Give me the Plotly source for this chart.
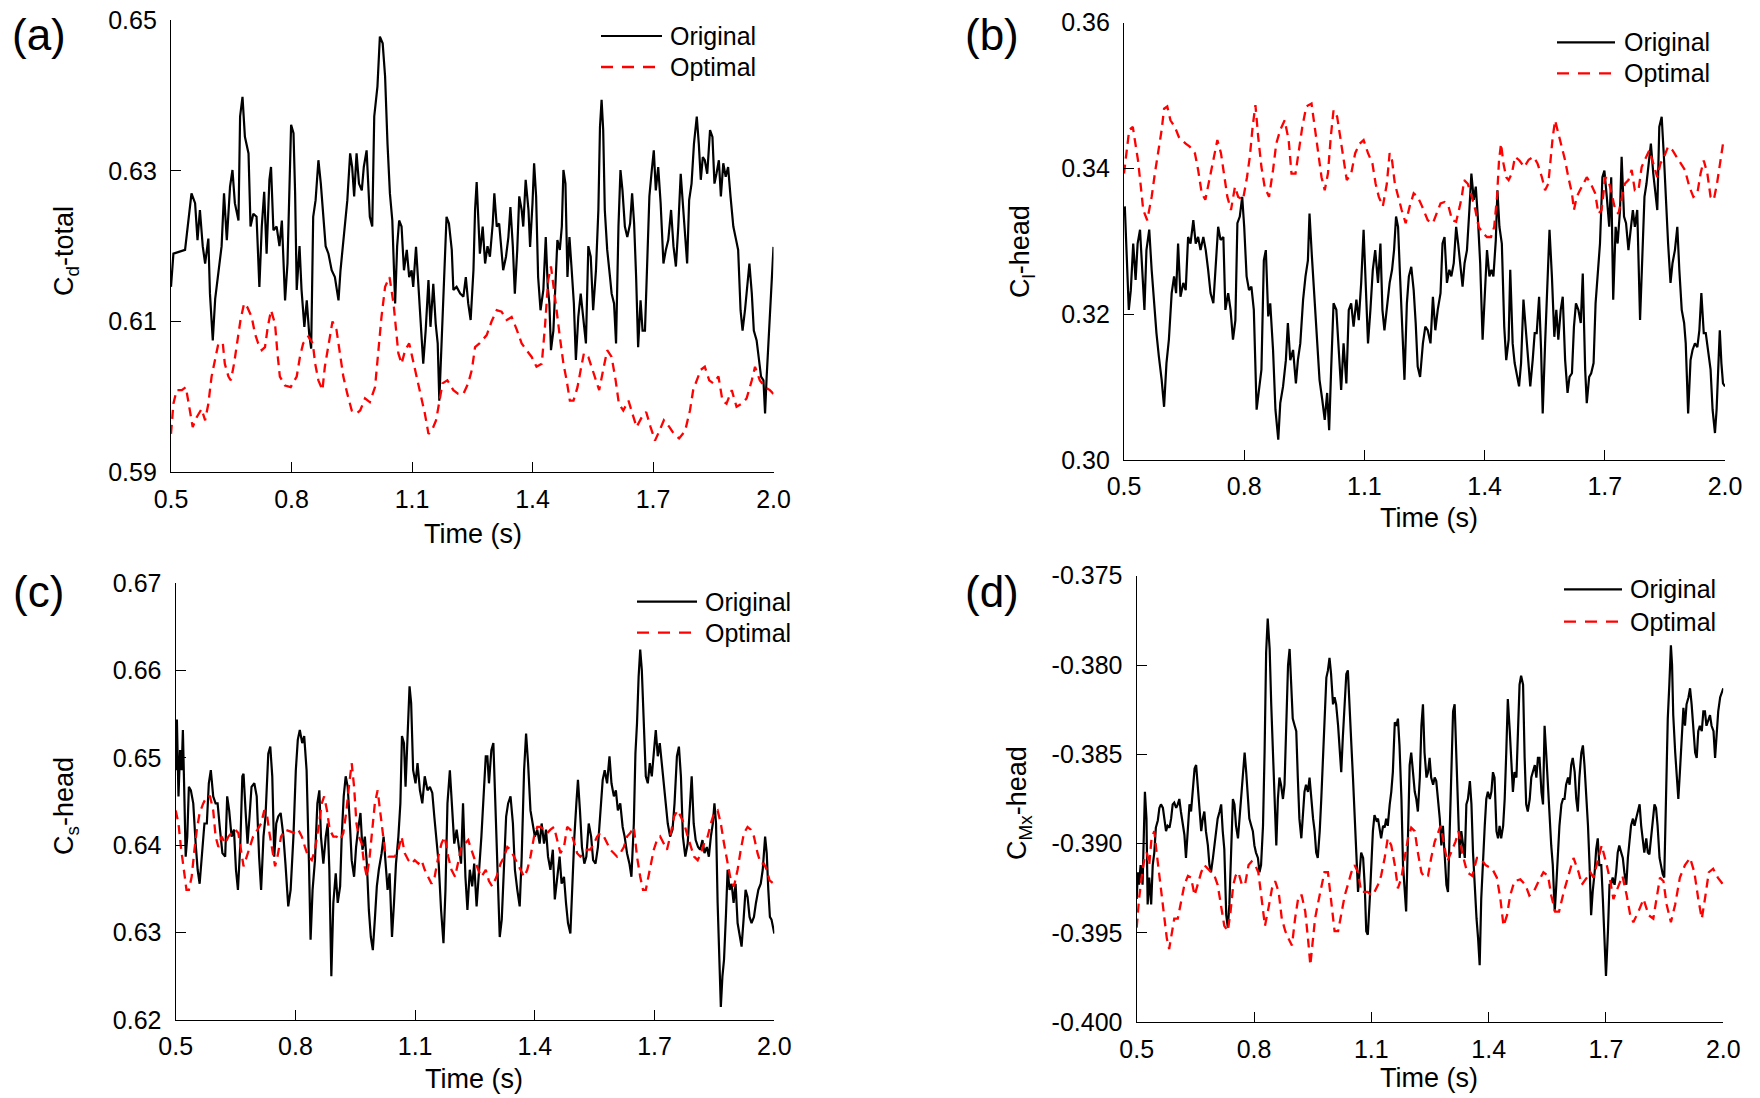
import plotly.graph_objects as go

# ---------------- data (time [s], coefficient) ----------------
time_ticks = [0.5, 0.8, 1.1, 1.4, 1.7, 2.0]
time_tick_labels = ["0.5", "0.8", "1.1", "1.4", "1.7", "2.0"]

a_ticks = [0.59, 0.61, 0.63, 0.65]
a_tick_labels = ["0.59", "0.61", "0.63", "0.65"]
b_ticks = [0.30, 0.32, 0.34, 0.36]
b_tick_labels = ["0.30", "0.32", "0.34", "0.36"]
c_ticks = [0.62, 0.63, 0.64, 0.65, 0.66, 0.67]
c_tick_labels = ["0.62", "0.63", "0.64", "0.65", "0.66", "0.67"]
d_ticks = [-0.400, -0.395, -0.390, -0.385, -0.380, -0.375]
d_tick_labels = ["-0.400", "-0.395", "-0.390", "-0.385", "-0.380", "-0.375"]

# (a) Cd-total
a_original = [
(0.500,0.6146),(0.506,0.6190),(0.535,0.6195),(0.551,0.6270),(0.560,0.6257),(0.566,0.6208),(0.572,0.6248),(0.579,0.6200),(0.585,0.6177),(0.593,0.6210),
(0.597,0.6137),(0.604,0.6075),(0.610,0.6130),(0.618,0.6164),(0.626,0.6200),(0.632,0.6270),(0.639,0.6208),(0.647,0.6279),(0.653,0.6301),(0.659,0.6257),
(0.668,0.6234),(0.672,0.6372),(0.678,0.6398),(0.684,0.6345),(0.693,0.6323),(0.698,0.6226),(0.705,0.6243),(0.713,0.6239),(0.720,0.6146),(0.726,0.6226),
(0.732,0.6272),(0.738,0.6190),(0.745,0.6288),(0.749,0.6305),(0.755,0.6221),(0.763,0.6226),(0.770,0.6200),(0.776,0.6234),(0.784,0.6128),(0.790,0.6177),
(0.796,0.6283),(0.799,0.6361),(0.805,0.6350),(0.809,0.6270),(0.813,0.6142),(0.820,0.6200),(0.825,0.6142),(0.832,0.6093),(0.838,0.6128),(0.844,0.6084),
(0.849,0.6064),(0.854,0.6239),(0.860,0.6261),(0.867,0.6314),(0.873,0.6283),(0.879,0.6239),(0.885,0.6200),(0.892,0.6190),(0.900,0.6168),(0.908,0.6159),
(0.917,0.6128),(0.922,0.6168),(0.927,0.6195),(0.933,0.6230),(0.939,0.6261),(0.946,0.6323),(0.951,0.6305),(0.956,0.6266),(0.962,0.6323),(0.968,0.6283),
(0.975,0.6274),(0.980,0.6305),(0.987,0.6327),(0.991,0.6283),(0.995,0.6239),(1.001,0.6226),(1.006,0.6372),(1.014,0.6412),(1.020,0.6478),(1.027,0.6469),
(1.033,0.6425),(1.039,0.6336),(1.045,0.6270),(1.051,0.6234),(1.058,0.6124),(1.063,0.6200),(1.068,0.6234),(1.074,0.6226),(1.080,0.6168),(1.087,0.6195),
(1.093,0.6159),(1.099,0.6168),(1.103,0.6146),(1.110,0.6199),(1.116,0.6146),(1.122,0.6088),(1.128,0.6044),(1.134,0.6088),(1.141,0.6155),(1.146,0.6093),
(1.153,0.6150),(1.159,0.6097),(1.164,0.6071),(1.168,0.5995),(1.174,0.6071),(1.178,0.6137),(1.182,0.6195),(1.186,0.6239),(1.192,0.6230),(1.199,0.6195),
(1.203,0.6142),(1.211,0.6146),(1.220,0.6137),(1.228,0.6133),(1.234,0.6159),(1.240,0.6124),(1.246,0.6102),(1.253,0.6168),(1.257,0.6248),(1.261,0.6285),
(1.269,0.6190),(1.276,0.6226),(1.282,0.6177),(1.288,0.6200),(1.294,0.6186),(1.301,0.6230),(1.305,0.6270),(1.311,0.6226),(1.317,0.6230),(1.323,0.6195),
(1.327,0.6168),(1.334,0.6186),(1.340,0.6212),(1.345,0.6252),(1.351,0.6200),(1.356,0.6137),(1.362,0.6195),(1.367,0.6266),(1.373,0.6248),(1.377,0.6226),
(1.383,0.6288),(1.390,0.6248),(1.394,0.6199),(1.400,0.6257),(1.404,0.6310),(1.409,0.6266),(1.414,0.6159),(1.420,0.6115),(1.427,0.6142),(1.433,0.6212),
(1.438,0.6146),(1.442,0.6124),(1.446,0.6062),(1.452,0.6088),(1.458,0.6159),(1.462,0.6208),(1.468,0.6195),(1.473,0.6226),(1.477,0.6301),(1.482,0.6283),
(1.487,0.6159),(1.492,0.6212),(1.497,0.6173),(1.503,0.6124),(1.508,0.6049),(1.514,0.6106),(1.520,0.6137),(1.526,0.6106),(1.533,0.6071),(1.539,0.6200),
(1.545,0.6186),(1.551,0.6115),(1.558,0.6168),(1.564,0.6248),(1.568,0.6358),(1.572,0.6394),(1.576,0.6354),(1.580,0.6248),(1.586,0.6195),(1.593,0.6159),
(1.597,0.6137),(1.603,0.6124),(1.608,0.6071),(1.614,0.6226),(1.619,0.6301),(1.624,0.6274),(1.630,0.6226),(1.636,0.6212),(1.643,0.6230),(1.648,0.6270),
(1.653,0.6230),(1.658,0.6159),(1.663,0.6066),(1.669,0.6128),(1.674,0.6088),(1.680,0.6088),(1.686,0.6177),(1.691,0.6266),(1.697,0.6301),(1.702,0.6327),
(1.707,0.6274),(1.713,0.6305),(1.719,0.6257),(1.726,0.6177),(1.732,0.6195),(1.738,0.6208),(1.745,0.6248),(1.751,0.6200),(1.757,0.6173),(1.763,0.6226),
(1.769,0.6296),(1.774,0.6261),(1.780,0.6208),(1.785,0.6177),(1.790,0.6261),(1.796,0.6283),(1.802,0.6336),(1.809,0.6372),(1.814,0.6336),(1.819,0.6288),
(1.824,0.6318),(1.829,0.6314),(1.835,0.6296),(1.842,0.6354),(1.848,0.6345),(1.853,0.6283),(1.858,0.6296),(1.864,0.6314),(1.869,0.6266),(1.875,0.6310),
(1.881,0.6292),(1.887,0.6305),(1.893,0.6266),(1.900,0.6226),(1.907,0.6208),(1.912,0.6195),(1.918,0.6115),(1.923,0.6088),(1.929,0.6115),(1.935,0.6150),
(1.940,0.6177),(1.946,0.6137),(1.951,0.6088),(1.958,0.6075),(1.964,0.6049),(1.969,0.6027),(1.975,0.6022),(1.979,0.5978),(1.983,0.6027),(1.989,0.6093),
(1.994,0.6137),(2.000,0.6199)]

a_optimal = [
(0.500,0.5951),(0.506,0.5991),(0.514,0.6009),(0.527,0.6009),(0.537,0.6013),(0.546,0.5987),(0.554,0.5960),(0.564,0.5973),(0.576,0.5984),(0.585,0.5969),
(0.593,0.5991),(0.601,0.6027),(0.610,0.6053),(0.618,0.6071),(0.629,0.6071),(0.634,0.6044),(0.643,0.6027),(0.649,0.6022),(0.657,0.6044),(0.665,0.6075),
(0.673,0.6102),(0.682,0.6124),(0.690,0.6119),(0.701,0.6106),(0.709,0.6084),(0.717,0.6071),(0.726,0.6062),(0.734,0.6066),(0.741,0.6093),(0.749,0.6115),
(0.759,0.6097),(0.765,0.6058),(0.771,0.6027),(0.784,0.6015),(0.798,0.6013),(0.813,0.6027),(0.821,0.6053),(0.829,0.6071),(0.842,0.6080),(0.853,0.6071),
(0.859,0.6044),(0.867,0.6022),(0.877,0.6009),(0.883,0.6040),(0.892,0.6071),(0.902,0.6100),(0.912,0.6089),(0.921,0.6058),(0.929,0.6027),(0.939,0.6004),
(0.950,0.5982),(0.962,0.5978),(0.971,0.5982),(0.983,0.5998),(0.995,0.5993),(1.008,0.6013),(1.016,0.6058),(1.024,0.6106),(1.033,0.6146),(1.044,0.6159),
(1.054,0.6124),(1.060,0.6088),(1.066,0.6058),(1.074,0.6044),(1.083,0.6062),(1.093,0.6071),(1.102,0.6049),(1.112,0.6027),(1.120,0.6009),(1.132,0.5978),
(1.141,0.5951),(1.149,0.5955),(1.160,0.5969),(1.168,0.5995),(1.176,0.6018),(1.188,0.6022),(1.203,0.6009),(1.215,0.6004),(1.228,0.6004),(1.240,0.6018),
(1.249,0.6036),(1.257,0.6066),(1.268,0.6071),(1.286,0.6082),(1.298,0.6100),(1.311,0.6115),(1.323,0.6113),(1.336,0.6102),(1.348,0.6106),(1.361,0.6089),
(1.373,0.6071),(1.385,0.6062),(1.398,0.6053),(1.410,0.6040),(1.423,0.6044),(1.431,0.6093),(1.439,0.6155),(1.446,0.6173),(1.453,0.6146),(1.460,0.6115),
(1.468,0.6080),(1.477,0.6044),(1.485,0.6022),(1.493,0.5995),(1.502,0.5995),(1.512,0.6013),(1.520,0.6036),(1.528,0.6058),(1.539,0.6053),(1.550,0.6036),
(1.558,0.6022),(1.566,0.6009),(1.576,0.6036),(1.586,0.6062),(1.597,0.6053),(1.607,0.6022),(1.615,0.5991),(1.626,0.5982),(1.639,0.5995),(1.649,0.5978),
(1.659,0.5960),(1.672,0.5973),(1.683,0.5980),(1.694,0.5960),(1.705,0.5942),(1.716,0.5955),(1.727,0.5969),(1.741,0.5960),(1.752,0.5951),(1.765,0.5945),
(1.780,0.5955),(1.792,0.5982),(1.800,0.6009),(1.809,0.6022),(1.819,0.6036),(1.829,0.6040),(1.840,0.6022),(1.850,0.6018),(1.863,0.6027),(1.873,0.5995),
(1.883,0.5991),(1.896,0.6009),(1.908,0.5987),(1.921,0.5991),(1.933,0.5998),(1.946,0.6022),(1.954,0.6040),(1.966,0.6022),(1.979,0.6013),(1.991,0.6009),
(2.000,0.6004)]

# (b) Cl-head
b_original = [
(0.502,0.3348),(0.507,0.3279),(0.512,0.3206),(0.517,0.3233),(0.523,0.3297),(0.529,0.3247),(0.534,0.3297),(0.540,0.3316),(0.546,0.3261),(0.551,0.3206),
(0.556,0.3288),(0.563,0.3316),(0.569,0.3261),(0.575,0.3215),(0.581,0.3174),(0.587,0.3142),(0.594,0.3110),(0.600,0.3073),(0.606,0.3133),(0.612,0.3165),
(0.619,0.3229),(0.625,0.3252),(0.630,0.3229),(0.635,0.3297),(0.641,0.3224),(0.648,0.3243),(0.654,0.3233),(0.660,0.3306),(0.666,0.3297),(0.673,0.3329),
(0.679,0.3297),(0.685,0.3306),(0.691,0.3288),(0.698,0.3306),(0.704,0.3288),(0.710,0.3261),(0.716,0.3229),(0.723,0.3215),(0.729,0.3270),(0.735,0.3320),
(0.741,0.3302),(0.748,0.3306),(0.753,0.3206),(0.760,0.3229),(0.766,0.3206),(0.772,0.3165),(0.778,0.3192),(0.783,0.3325),(0.789,0.3334),(0.795,0.3361),
(0.800,0.3320),(0.806,0.3252),(0.812,0.3233),(0.818,0.3238),(0.824,0.3206),(0.831,0.3069),(0.836,0.3092),(0.843,0.3124),(0.849,0.3274),(0.854,0.3288),
(0.860,0.3197),(0.865,0.3215),(0.872,0.3151),(0.878,0.3069),(0.885,0.3028),(0.890,0.3078),(0.897,0.3101),(0.904,0.3137),(0.909,0.3188),(0.915,0.3137),
(0.922,0.3151),(0.929,0.3105),(0.934,0.3137),(0.940,0.3160),(0.947,0.3220),(0.953,0.3252),(0.959,0.3274),(0.963,0.3338),(0.969,0.3279),(0.976,0.3215),
(0.982,0.3160),(0.988,0.3110),(0.995,0.3082),(1.001,0.3055),(1.007,0.3092),(1.012,0.3041),(1.017,0.3124),(1.023,0.3215),(1.030,0.3206),(1.037,0.3133),
(1.042,0.3096),(1.048,0.3160),(1.055,0.3105),(1.061,0.3206),(1.067,0.3215),(1.073,0.3183),(1.080,0.3220),(1.086,0.3192),(1.092,0.3243),(1.098,0.3316),
(1.103,0.3252),(1.109,0.3160),(1.115,0.3206),(1.121,0.3261),(1.127,0.3288),(1.134,0.3243),(1.140,0.3297),(1.145,0.3206),(1.150,0.3178),(1.156,0.3211),
(1.163,0.3243),(1.169,0.3261),(1.174,0.3288),(1.179,0.3334),(1.184,0.3320),(1.189,0.3252),(1.194,0.3183),(1.200,0.3110),(1.206,0.3215),(1.211,0.3252),
(1.217,0.3265),(1.223,0.3233),(1.228,0.3188),(1.233,0.3128),(1.239,0.3114),(1.246,0.3160),(1.252,0.3183),(1.258,0.3178),
(1.265,0.3160),(1.271,0.3224),(1.277,0.3178),(1.283,0.3206),(1.290,0.3229),(1.295,0.3297),(1.300,0.3306),(1.306,0.3243),(1.312,0.3261),(1.317,0.3252),
(1.323,0.3270),(1.329,0.3320),(1.334,0.3297),(1.339,0.3270),(1.345,0.3238),(1.350,0.3270),(1.356,0.3288),(1.362,0.3343),(1.367,0.3393),(1.373,0.3357),
(1.378,0.3375),(1.383,0.3334),(1.389,0.3270),(1.395,0.3165),(1.400,0.3229),(1.406,0.3288),(1.412,0.3252),(1.417,0.3261),(1.422,0.3252),(1.428,0.3302),
(1.432,0.3370),(1.437,0.3320),(1.443,0.3297),(1.449,0.3183),(1.454,0.3137),(1.460,0.3165),(1.464,0.3261),(1.470,0.3160),(1.475,0.3133),(1.481,0.3114),
(1.486,0.3101),(1.491,0.3133),(1.497,0.3220),(1.503,0.3178),(1.508,0.3146),(1.514,0.3101),(1.520,0.3137),(1.525,0.3174),(1.530,0.3174),(1.536,0.3224),
(1.541,0.3151),(1.545,0.3064),(1.551,0.3160),(1.557,0.3252),(1.562,0.3316),(1.568,0.3252),(1.574,0.3169),(1.579,0.3206),(1.584,0.3165),(1.590,0.3206),
(1.595,0.3224),(1.601,0.3137),(1.607,0.3092),(1.612,0.3114),(1.618,0.3119),(1.623,0.3183),(1.628,0.3215),(1.634,0.3206),(1.640,0.3188),(1.645,0.3256),
(1.651,0.3124),(1.655,0.3078),(1.661,0.3114),(1.666,0.3119),(1.672,0.3133),(1.677,0.3215),(1.682,0.3252),(1.688,0.3297),(1.694,0.3388),(1.699,0.3397),
(1.705,0.3361),(1.711,0.3320),(1.716,0.3388),(1.721,0.3220),(1.727,0.3320),(1.732,0.3297),(1.738,0.3343),(1.742,0.3416),(1.748,0.3334),(1.753,0.3325),
(1.759,0.3288),(1.765,0.3320),(1.770,0.3343),(1.775,0.3320),(1.781,0.3343),(1.788,0.3192),(1.794,0.3274),(1.799,0.3361),(1.804,0.3379),(1.810,0.3411),
(1.815,0.3434),(1.821,0.3393),(1.827,0.3361),(1.831,0.3343),(1.836,0.3457),(1.842,0.3471),(1.848,0.3411),(1.853,0.3343),(1.858,0.3297),(1.864,0.3243),
(1.869,0.3270),(1.875,0.3288),(1.881,0.3320),(1.886,0.3261),(1.892,0.3206),(1.898,0.3188),(1.902,0.3160),(1.908,0.3064),(1.914,0.3137),(1.919,0.3151),
(1.925,0.3160),(1.931,0.3155),(1.936,0.3178),(1.941,0.3229),(1.947,0.3174),(1.952,0.3174),(1.958,0.3151),(1.964,0.3124),(1.969,0.3069),(1.975,0.3037),
(1.979,0.3069),(1.983,0.3133),(1.987,0.3178),(1.991,0.3133),(1.995,0.3105),(2.000,0.3101)]

b_optimal = [
(0.500,0.3393),(0.507,0.3425),(0.513,0.3453),(0.522,0.3457),(0.528,0.3434),(0.535,0.3411),(0.542,0.3375),(0.548,0.3343),(0.558,0.3329),(0.569,0.3361),
(0.577,0.3393),(0.586,0.3425),(0.594,0.3453),(0.600,0.3482),(0.608,0.3485),(0.616,0.3466),(0.627,0.3457),(0.637,0.3443),(0.644,0.3439),(0.654,0.3434),
(0.664,0.3430),(0.677,0.3421),(0.685,0.3398),(0.694,0.3366),(0.703,0.3357),(0.713,0.3384),(0.723,0.3411),(0.733,0.3439),(0.742,0.3421),(0.750,0.3388),
(0.758,0.3361),(0.767,0.3343),(0.777,0.3375),(0.785,0.3361),(0.797,0.3357),(0.807,0.3388),(0.814,0.3416),(0.821,0.3457),(0.828,0.3487),(0.835,0.3443),
(0.843,0.3402),(0.851,0.3375),(0.862,0.3361),(0.872,0.3398),(0.880,0.3434),(0.890,0.3453),(0.901,0.3466),(0.911,0.3439),(0.918,0.3393),(0.928,0.3393),
(0.936,0.3421),(0.945,0.3457),(0.955,0.3485),(0.968,0.3489),(0.976,0.3457),(0.984,0.3421),(0.993,0.3388),(1.001,0.3370),(1.009,0.3393),(1.016,0.3443),
(1.023,0.3480),(1.032,0.3471),(1.040,0.3443),(1.048,0.3411),(1.056,0.3384),(1.067,0.3393),(1.077,0.3421),(1.088,0.3434),(1.098,0.3439),(1.109,0.3421),
(1.120,0.3407),(1.128,0.3379),(1.136,0.3361),(1.146,0.3348),(1.156,0.3379),(1.163,0.3421),(1.169,0.3411),(1.176,0.3379),(1.184,0.3361),(1.193,0.3343),
(1.203,0.3325),(1.213,0.3348),(1.223,0.3366),(1.233,0.3361),(1.244,0.3348),(1.258,0.3329),
(1.271,0.3325),(1.280,0.3338),(1.290,0.3352),(1.300,0.3354),(1.310,0.3348),(1.319,0.3329),(1.329,0.3327),(1.338,0.3348),(1.343,0.3361),(1.349,0.3384),
(1.358,0.3379),(1.368,0.3361),(1.377,0.3343),(1.385,0.3320),(1.396,0.3311),(1.406,0.3306),(1.416,0.3306),(1.424,0.3320),(1.431,0.3361),(1.436,0.3411),
(1.441,0.3434),(1.447,0.3407),(1.454,0.3388),(1.460,0.3384),(1.468,0.3393),(1.476,0.3416),(1.487,0.3411),(1.499,0.3402),(1.510,0.3412),(1.522,0.3416),
(1.532,0.3407),(1.543,0.3388),(1.551,0.3370),(1.559,0.3379),(1.565,0.3416),(1.570,0.3443),(1.576,0.3466),(1.584,0.3448),(1.593,0.3425),(1.601,0.3411),
(1.609,0.3388),(1.618,0.3366),(1.623,0.3343),(1.630,0.3361),(1.638,0.3370),(1.647,0.3379),(1.655,0.3388),(1.665,0.3379),(1.676,0.3366),(1.684,0.3338),
(1.692,0.3343),(1.701,0.3388),(1.709,0.3384),(1.717,0.3366),(1.726,0.3343),(1.734,0.3338),(1.742,0.3361),(1.750,0.3379),(1.759,0.3384),(1.767,0.3398),
(1.775,0.3370),(1.784,0.3370),(1.792,0.3402),(1.800,0.3411),(1.811,0.3425),(1.821,0.3407),(1.831,0.3388),(1.839,0.3407),(1.848,0.3416),(1.858,0.3430),
(1.869,0.3425),(1.879,0.3416),(1.889,0.3407),(1.900,0.3398),(1.911,0.3375),(1.921,0.3361),(1.931,0.3366),(1.939,0.3393),(1.947,0.3411),(1.956,0.3393),
(1.964,0.3361),(1.972,0.3357),(1.980,0.3379),(1.987,0.3407),(1.995,0.3434),(2.000,0.3440)]

# (c) Cs-head
c_original = [
(0.500,0.6486),(0.503,0.6544),(0.507,0.6456),(0.511,0.6509),(0.515,0.6486),(0.518,0.6532),(0.521,0.6471),(0.525,0.6387),(0.529,0.6410),(0.533,0.6467),
(0.538,0.6463),(0.544,0.6448),(0.550,0.6402),(0.555,0.6372),(0.560,0.6356),(0.565,0.6387),(0.572,0.6425),(0.578,0.6425),(0.583,0.6471),(0.588,0.6486),
(0.594,0.6456),(0.600,0.6448),(0.605,0.6448),(0.611,0.6418),(0.617,0.6391),(0.624,0.6387),(0.629,0.6456),(0.634,0.6440),(0.640,0.6410),(0.646,0.6418),
(0.651,0.6372),(0.656,0.6349),(0.662,0.6402),(0.667,0.6479),(0.670,0.6482),(0.675,0.6440),(0.680,0.6402),(0.685,0.6433),(0.690,0.6467),(0.697,0.6471),
(0.703,0.6456),(0.709,0.6387),(0.714,0.6349),(0.720,0.6410),(0.725,0.6433),(0.732,0.6505),(0.737,0.6513),(0.742,0.6479),(0.747,0.6387),(0.752,0.6425),
(0.757,0.6433),(0.763,0.6437),(0.770,0.6410),(0.775,0.6379),(0.782,0.6330),(0.788,0.6349),(0.795,0.6410),(0.801,0.6486),(0.806,0.6521),(0.811,0.6532),
(0.817,0.6517),(0.822,0.6525),(0.828,0.6486),(0.834,0.6379),(0.838,0.6292),(0.843,0.6349),(0.849,0.6383),(0.855,0.6448),(0.860,0.6463),(0.864,0.6410),
(0.870,0.6379),(0.876,0.6410),(0.881,0.6425),(0.885,0.6372),(0.890,0.6250),(0.895,0.6334),(0.901,0.6368),(0.906,0.6334),(0.912,0.6353),(0.916,0.6410),
(0.921,0.6456),(0.926,0.6479),(0.931,0.6467),(0.936,0.6429),(0.941,0.6383),(0.947,0.6364),(0.952,0.6398),(0.957,0.6418),(0.963,0.6437),(0.968,0.6395),
(0.974,0.6410),(0.979,0.6379),(0.984,0.6326),(0.989,0.6295),(0.994,0.6280),(0.999,0.6315),(1.004,0.6353),(1.009,0.6372),(1.016,0.6391),(1.021,0.6410),
(1.026,0.6379),(1.031,0.6349),(1.036,0.6368),(1.042,0.6295),(1.047,0.6334),(1.052,0.6379),(1.058,0.6410),(1.063,0.6448),(1.067,0.6525),(1.072,0.6517),
(1.076,0.6467),(1.081,0.6532),(1.086,0.6582),(1.090,0.6563),(1.095,0.6486),(1.101,0.6471),(1.106,0.6494),(1.112,0.6463),(1.118,0.6448),(1.124,0.6479),
(1.131,0.6463),(1.137,0.6467),(1.143,0.6460),(1.148,0.6433),(1.154,0.6402),(1.159,0.6379),(1.165,0.6326),(1.171,0.6288),(1.176,0.6349),(1.181,0.6448),
(1.187,0.6486),(1.193,0.6440),(1.198,0.6402),(1.204,0.6418),(1.210,0.6395),(1.215,0.6379),(1.220,0.6448),(1.226,0.6364),(1.231,0.6326),(1.237,0.6372),
(1.243,0.6353),(1.248,0.6379),(1.254,0.6330),(1.260,0.6372),(1.266,0.6410),
(1.277,0.6502),(1.281,0.6502),(1.285,0.6471),(1.291,0.6509),(1.296,0.6517),(1.300,0.6467),(1.306,0.6379),(1.312,0.6295),(1.317,0.6315),(1.323,0.6387),
(1.328,0.6433),(1.333,0.6448),(1.339,0.6456),(1.345,0.6425),(1.350,0.6372),(1.356,0.6349),(1.362,0.6330),(1.367,0.6387),(1.373,0.6486),(1.378,0.6528),
(1.383,0.6494),(1.389,0.6440),(1.395,0.6425),(1.400,0.6410),(1.406,0.6418),(1.412,0.6402),(1.417,0.6425),(1.423,0.6402),(1.428,0.6418),(1.433,0.6387),
(1.439,0.6372),(1.445,0.6395),(1.450,0.6338),(1.456,0.6364),(1.462,0.6387),(1.467,0.6356),(1.473,0.6364),(1.478,0.6334),(1.483,0.6311),(1.489,0.6299),
(1.494,0.6356),(1.499,0.6410),(1.504,0.6448),(1.508,0.6475),(1.513,0.6440),(1.518,0.6398),(1.524,0.6379),(1.529,0.6387),(1.535,0.6425),(1.541,0.6410),
(1.546,0.6383),(1.552,0.6379),(1.558,0.6398),(1.564,0.6440),(1.570,0.6475),(1.575,0.6486),(1.581,0.6471),(1.587,0.6502),(1.592,0.6471),(1.598,0.6456),
(1.603,0.6463),(1.608,0.6440),(1.614,0.6448),(1.620,0.6421),(1.625,0.6410),(1.631,0.6391),(1.637,0.6379),(1.642,0.6364),(1.648,0.6425),(1.652,0.6505),
(1.656,0.6540),(1.660,0.6593),(1.664,0.6624),(1.668,0.6601),(1.673,0.6536),(1.678,0.6479),(1.683,0.6471),(1.688,0.6494),(1.693,0.6479),(1.698,0.6502),
(1.703,0.6532),(1.708,0.6502),(1.713,0.6517),(1.718,0.6494),(1.723,0.6471),(1.728,0.6456),(1.733,0.6425),(1.739,0.6410),(1.745,0.6418),(1.750,0.6448),
(1.756,0.6502),(1.761,0.6513),(1.766,0.6479),(1.771,0.6410),(1.777,0.6387),(1.783,0.6402),(1.788,0.6440),(1.793,0.6479),(1.798,0.6425),(1.803,0.6406),
(1.809,0.6398),(1.814,0.6395),(1.820,0.6406),(1.825,0.6391),(1.831,0.6398),(1.836,0.6387),(1.841,0.6410),(1.846,0.6425),(1.850,0.6448),(1.854,0.6425),
(1.858,0.6334),(1.862,0.6269),(1.866,0.6215),(1.870,0.6250),(1.874,0.6269),(1.879,0.6322),(1.883,0.6372),(1.888,0.6349),(1.893,0.6356),(1.898,0.6334),
(1.903,0.6356),(1.908,0.6311),(1.913,0.6295),(1.918,0.6284),(1.923,0.6315),(1.928,0.6349),(1.933,0.6341),(1.938,0.6318),(1.943,0.6311),(1.949,0.6318),
(1.954,0.6334),(1.960,0.6349),(1.966,0.6356),(1.971,0.6372),(1.977,0.6410),(1.981,0.6391),(1.985,0.6349),(1.989,0.6318),(1.993,0.6315),(2.000,0.6299)]

c_optimal = [
(0.500,0.6440),(0.507,0.6425),(0.513,0.6398),(0.520,0.6372),(0.527,0.6349),(0.533,0.6349),(0.540,0.6364),(0.547,0.6395),(0.553,0.6418),(0.560,0.6437),
(0.569,0.6448),(0.578,0.6456),(0.586,0.6456),(0.594,0.6440),(0.600,0.6410),(0.607,0.6398),(0.615,0.6410),(0.624,0.6402),(0.632,0.6410),(0.640,0.6414),
(0.649,0.6418),(0.657,0.6414),(0.664,0.6395),(0.670,0.6376),(0.678,0.6387),(0.686,0.6398),(0.694,0.6410),(0.705,0.6418),(0.714,0.6425),(0.722,0.6440),
(0.728,0.6437),(0.735,0.6414),(0.742,0.6395),(0.749,0.6376),(0.755,0.6387),(0.764,0.6410),(0.774,0.6418),(0.786,0.6416),(0.799,0.6414),(0.807,0.6418),
(0.816,0.6410),(0.824,0.6398),(0.832,0.6387),(0.841,0.6383),(0.849,0.6395),(0.857,0.6418),(0.866,0.6448),(0.872,0.6456),(0.879,0.6440),(0.886,0.6418),
(0.895,0.6410),(0.903,0.6410),(0.912,0.6406),(0.920,0.6414),(0.928,0.6440),(0.934,0.6467),(0.941,0.6494),(0.947,0.6467),(0.953,0.6425),(0.959,0.6410),
(0.966,0.6402),(0.972,0.6379),(0.979,0.6364),(0.986,0.6387),(0.992,0.6418),(0.999,0.6448),(1.006,0.6463),(1.012,0.6440),(1.018,0.6418),(1.024,0.6395),
(1.033,0.6387),(1.041,0.6387),(1.049,0.6387),(1.058,0.6395),(1.066,0.6410),(1.074,0.6391),(1.083,0.6383),(1.091,0.6379),(1.099,0.6383),(1.108,0.6379),
(1.116,0.6383),(1.124,0.6372),(1.133,0.6364),(1.141,0.6356),(1.149,0.6364),(1.158,0.6387),(1.166,0.6402),(1.174,0.6410),(1.183,0.6387),(1.191,0.6372),
(1.200,0.6364),(1.208,0.6383),(1.216,0.6398),(1.225,0.6402),(1.233,0.6406),(1.241,0.6395),(1.250,0.6383),(1.258,0.6372),(1.266,0.6364),
(1.277,0.6372),(1.285,0.6359),(1.293,0.6353),(1.304,0.6364),(1.314,0.6379),(1.323,0.6387),(1.331,0.6398),(1.339,0.6395),(1.348,0.6387),(1.356,0.6379),
(1.364,0.6372),(1.373,0.6364),(1.381,0.6372),(1.389,0.6387),(1.398,0.6410),(1.406,0.6421),(1.414,0.6421),(1.423,0.6418),(1.431,0.6414),(1.439,0.6418),
(1.448,0.6421),(1.456,0.6406),(1.464,0.6391),(1.473,0.6398),(1.481,0.6421),(1.489,0.6418),(1.498,0.6402),(1.506,0.6391),(1.514,0.6387),(1.523,0.6391),
(1.531,0.6395),(1.539,0.6395),(1.548,0.6402),(1.556,0.6410),(1.564,0.6414),(1.573,0.6410),(1.581,0.6402),(1.589,0.6395),(1.598,0.6391),(1.606,0.6387),
(1.614,0.6391),(1.623,0.6398),(1.631,0.6410),(1.639,0.6414),(1.648,0.6421),(1.656,0.6387),(1.664,0.6364),(1.671,0.6349),(1.678,0.6349),(1.684,0.6364),
(1.691,0.6379),(1.698,0.6395),(1.706,0.6406),(1.714,0.6410),(1.723,0.6402),(1.731,0.6395),(1.739,0.6410),(1.749,0.6433),(1.758,0.6440),(1.766,0.6433),
(1.774,0.6425),(1.783,0.6410),(1.791,0.6398),(1.799,0.6387),(1.808,0.6383),(1.816,0.6391),(1.824,0.6402),(1.833,0.6410),(1.841,0.6425),(1.849,0.6437),
(1.858,0.6440),(1.866,0.6425),(1.874,0.6402),(1.883,0.6379),(1.891,0.6360),(1.899,0.6353),(1.908,0.6372),(1.916,0.6395),(1.924,0.6414),(1.933,0.6421),
(1.941,0.6418),(1.949,0.6410),(1.958,0.6391),(1.966,0.6379),(1.974,0.6379),(1.981,0.6372),(1.988,0.6360),(1.998,0.6356)]

# (d) CMx-head
d_original = [
(0.500,-0.3931),(0.503,-0.3916),(0.506,-0.3923),(0.510,-0.3912),(0.515,-0.3923),(0.518,-0.3886),(0.521,-0.3871),(0.525,-0.3886),(0.528,-0.3934),(0.532,-0.3919),
(0.537,-0.3934),(0.541,-0.3912),(0.545,-0.3905),(0.549,-0.3891),(0.554,-0.3887),(0.558,-0.3880),(0.562,-0.3878),(0.567,-0.3880),(0.571,-0.3886),(0.575,-0.3893),
(0.579,-0.3890),(0.584,-0.3891),(0.588,-0.3886),(0.592,-0.3878),(0.596,-0.3877),(0.601,-0.3880),(0.605,-0.3878),(0.609,-0.3875),(0.613,-0.3882),(0.618,-0.3890),
(0.622,-0.3895),(0.626,-0.3908),(0.631,-0.3887),(0.635,-0.3878),(0.639,-0.3882),(0.643,-0.3871),(0.648,-0.3858),(0.652,-0.3856),(0.656,-0.3867),(0.660,-0.3882),
(0.665,-0.3893),(0.669,-0.3886),(0.673,-0.3882),(0.677,-0.3893),(0.682,-0.3901),(0.686,-0.3912),(0.690,-0.3916),(0.695,-0.3908),(0.699,-0.3901),(0.703,-0.3893),
(0.707,-0.3886),(0.712,-0.3882),(0.716,-0.3878),(0.720,-0.3893),(0.724,-0.3903),(0.729,-0.3940),(0.733,-0.3947),(0.737,-0.3934),(0.741,-0.3912),(0.746,-0.3875),
(0.750,-0.3878),(0.754,-0.3890),(0.759,-0.3897),(0.763,-0.3886),(0.767,-0.3875),(0.771,-0.3860),(0.776,-0.3849),(0.780,-0.3860),(0.784,-0.3875),(0.788,-0.3886),
(0.793,-0.3890),(0.797,-0.3893),(0.801,-0.3901),(0.805,-0.3905),(0.810,-0.3908),(0.814,-0.3916),(0.818,-0.3912),(0.823,-0.3890),(0.827,-0.3849),(0.831,-0.3793),
(0.835,-0.3774),(0.840,-0.3791),(0.844,-0.3822),(0.848,-0.3849),(0.852,-0.3875),(0.857,-0.3901),(0.861,-0.3875),(0.865,-0.3863),(0.869,-0.3867),(0.874,-0.3875),
(0.878,-0.3867),(0.882,-0.3837),(0.887,-0.3800),(0.891,-0.3791),(0.895,-0.3815),(0.899,-0.3830),(0.904,-0.3834),(0.908,-0.3837),(0.912,-0.3863),(0.916,-0.3886),
(0.921,-0.3897),(0.925,-0.3882),(0.929,-0.3871),(0.933,-0.3867),(0.938,-0.3871),(0.942,-0.3863),(0.946,-0.3875),(0.951,-0.3886),(0.955,-0.3893),(0.959,-0.3905),
(0.963,-0.3908),(0.968,-0.3893),(0.972,-0.3875),(0.976,-0.3856),(0.980,-0.3830),(0.985,-0.3807),(0.989,-0.3803),(0.993,-0.3796),(0.997,-0.3805),(1.002,-0.3822),
(1.006,-0.3818),(1.010,-0.3822),(1.015,-0.3834),(1.019,-0.3849),(1.023,-0.3860),(1.027,-0.3841),(1.032,-0.3822),(1.036,-0.3805),(1.040,-0.3803),(1.044,-0.3826),
(1.049,-0.3845),(1.053,-0.3863),(1.057,-0.3886),(1.061,-0.3908),(1.066,-0.3927),(1.070,-0.3916),(1.074,-0.3905),(1.079,-0.3908),(1.083,-0.3923),(1.087,-0.3949),
(1.091,-0.3951),(1.096,-0.3931),(1.100,-0.3912),(1.104,-0.3893),(1.108,-0.3884),(1.113,-0.3887),(1.117,-0.3886),(1.121,-0.3893),(1.125,-0.3897),(1.130,-0.3890),
(1.134,-0.3891),(1.138,-0.3886),(1.142,-0.3890),(1.147,-0.3878),(1.151,-0.3871),(1.155,-0.3860),(1.160,-0.3832),(1.164,-0.3834),(1.168,-0.3830),(1.172,-0.3845),
(1.177,-0.3875),(1.181,-0.3912),(1.185,-0.3923),(1.189,-0.3938),(1.194,-0.3893),(1.198,-0.3856),(1.202,-0.3849),(1.206,-0.3860),(1.211,-0.3871),(1.215,-0.3875),
(1.219,-0.3882),(1.224,-0.3863),(1.228,-0.3834),(1.232,-0.3822),(1.236,-0.3849),(1.241,-0.3863),(1.245,-0.3860),(1.249,-0.3852),(1.253,-0.3863),(1.258,-0.3867),
(1.262,-0.3863),
(1.266,-0.3865),(1.271,-0.3875),(1.275,-0.3886),(1.279,-0.3901),(1.283,-0.3890),(1.288,-0.3908),(1.292,-0.3923),(1.296,-0.3927),(1.300,-0.3897),(1.305,-0.3862),
(1.309,-0.3826),(1.313,-0.3822),(1.317,-0.3849),(1.322,-0.3893),(1.326,-0.3908),(1.330,-0.3893),(1.334,-0.3901),(1.339,-0.3908),(1.343,-0.3878),(1.347,-0.3875),
(1.352,-0.3865),(1.356,-0.3878),(1.360,-0.3905),(1.364,-0.3923),(1.369,-0.3942),(1.373,-0.3953),(1.377,-0.3968),(1.381,-0.3931),(1.386,-0.3905),(1.390,-0.3890),
(1.394,-0.3875),(1.398,-0.3871),(1.403,-0.3875),(1.407,-0.3871),(1.411,-0.3860),(1.415,-0.3863),(1.420,-0.3893),(1.424,-0.3897),(1.428,-0.3890),(1.432,-0.3897),
(1.437,-0.3890),(1.441,-0.3875),(1.445,-0.3849),(1.449,-0.3819),(1.454,-0.3837),(1.458,-0.3856),(1.462,-0.3871),(1.466,-0.3860),(1.471,-0.3863),(1.475,-0.3837),
(1.479,-0.3811),(1.483,-0.3806),(1.488,-0.3811),(1.492,-0.3852),(1.496,-0.3878),(1.500,-0.3882),(1.505,-0.3875),(1.509,-0.3863),(1.513,-0.3860),(1.518,-0.3856),
(1.522,-0.3863),(1.526,-0.3852),(1.530,-0.3852),(1.535,-0.3871),(1.539,-0.3878),(1.543,-0.3834),(1.547,-0.3849),(1.552,-0.3871),(1.556,-0.3882),(1.560,-0.3901),
(1.564,-0.3912),(1.569,-0.3938),(1.573,-0.3923),(1.577,-0.3905),(1.581,-0.3890),(1.586,-0.3878),(1.590,-0.3875),(1.594,-0.3875),(1.598,-0.3867),(1.603,-0.3863),
(1.607,-0.3867),(1.611,-0.3856),(1.615,-0.3852),(1.620,-0.3860),(1.624,-0.3875),(1.628,-0.3882),(1.632,-0.3863),(1.637,-0.3849),(1.641,-0.3845),(1.645,-0.3856),
(1.649,-0.3871),(1.654,-0.3890),(1.658,-0.3912),(1.662,-0.3940),(1.666,-0.3927),(1.671,-0.3916),(1.675,-0.3903),(1.679,-0.3897),(1.683,-0.3912),(1.688,-0.3912),
(1.692,-0.3931),(1.696,-0.3949),(1.700,-0.3974),(1.705,-0.3949),(1.709,-0.3923),(1.713,-0.3923),(1.717,-0.3919),(1.722,-0.3923),(1.726,-0.3916),(1.730,-0.3905),
(1.734,-0.3901),(1.739,-0.3905),(1.743,-0.3908),(1.747,-0.3916),(1.752,-0.3923),(1.756,-0.3908),(1.760,-0.3897),(1.764,-0.3890),(1.769,-0.3886),(1.773,-0.3890),
(1.777,-0.3886),(1.781,-0.3882),(1.786,-0.3878),(1.790,-0.3890),(1.794,-0.3897),(1.798,-0.3905),(1.803,-0.3897),(1.807,-0.3905),(1.811,-0.3906),(1.815,-0.3897),
(1.820,-0.3890),(1.824,-0.3878),(1.828,-0.3880),(1.832,-0.3890),(1.837,-0.3908),(1.841,-0.3912),(1.845,-0.3917),(1.849,-0.3919),(1.854,-0.3860),(1.858,-0.3830),
(1.862,-0.3811),(1.866,-0.3789),(1.869,-0.3800),(1.872,-0.3828),(1.877,-0.3849),(1.881,-0.3863),(1.885,-0.3875),(1.889,-0.3860),(1.894,-0.3837),(1.898,-0.3824),
(1.902,-0.3834),(1.906,-0.3822),(1.911,-0.3818),(1.915,-0.3813),(1.919,-0.3822),(1.923,-0.3834),(1.928,-0.3849),(1.932,-0.3852),(1.936,-0.3837),(1.940,-0.3834),
(1.945,-0.3837),(1.949,-0.3826),(1.953,-0.3826),(1.957,-0.3834),(1.962,-0.3830),(1.966,-0.3828),(1.970,-0.3834),(1.975,-0.3837),(1.979,-0.3852),(1.983,-0.3837),
(1.987,-0.3826),(1.992,-0.3818),(1.996,-0.3815),(2.000,-0.3813)]

d_optimal = [
(0.500,-0.3947),(0.506,-0.3931),(0.513,-0.3918),(0.520,-0.3908),(0.526,-0.3905),(0.532,-0.3912),(0.538,-0.3897),(0.545,-0.3893),(0.551,-0.3905),(0.557,-0.3916),
(0.564,-0.3931),(0.571,-0.3942),(0.577,-0.3953),(0.583,-0.3959),(0.590,-0.3951),(0.596,-0.3942),(0.605,-0.3942),(0.613,-0.3933),(0.622,-0.3923),(0.631,-0.3918),
(0.639,-0.3919),(0.648,-0.3929),(0.656,-0.3923),(0.665,-0.3916),(0.673,-0.3912),(0.682,-0.3914),(0.690,-0.3916),(0.699,-0.3918),(0.707,-0.3923),(0.716,-0.3934),
(0.724,-0.3946),(0.733,-0.3949),(0.740,-0.3938),(0.747,-0.3923),(0.753,-0.3918),(0.760,-0.3916),(0.769,-0.3923),(0.777,-0.3923),(0.786,-0.3912),(0.794,-0.3910),
(0.803,-0.3912),(0.811,-0.3916),(0.820,-0.3931),(0.828,-0.3946),(0.837,-0.3936),(0.846,-0.3925),(0.854,-0.3921),(0.863,-0.3927),(0.871,-0.3942),(0.880,-0.3949),
(0.888,-0.3953),(0.897,-0.3957),(0.905,-0.3942),(0.914,-0.3929),(0.922,-0.3929),(0.931,-0.3938),(0.938,-0.3953),(0.944,-0.3968),(0.950,-0.3955),(0.956,-0.3942),
(0.963,-0.3934),(0.972,-0.3925),(0.980,-0.3916),(0.989,-0.3916),(0.997,-0.3931),(1.006,-0.3949),(1.015,-0.3949),(1.023,-0.3940),(1.032,-0.3929),(1.040,-0.3923),
(1.049,-0.3916),(1.057,-0.3912),(1.066,-0.3916),(1.074,-0.3927),(1.083,-0.3927),(1.091,-0.3927),(1.100,-0.3929),(1.108,-0.3927),(1.117,-0.3923),(1.125,-0.3918),
(1.134,-0.3908),(1.142,-0.3897),(1.151,-0.3901),(1.160,-0.3912),(1.168,-0.3925),(1.177,-0.3919),(1.185,-0.3908),(1.194,-0.3897),(1.202,-0.3891),(1.211,-0.3893),
(1.219,-0.3905),(1.228,-0.3916),(1.236,-0.3919),(1.245,-0.3918),(1.253,-0.3908),(1.262,-0.3899),
(1.277,-0.3890),(1.285,-0.3899),(1.294,-0.3910),(1.302,-0.3906),(1.315,-0.3899),(1.323,-0.3893),(1.332,-0.3905),(1.345,-0.3916),(1.358,-0.3918),(1.370,-0.3908),
(1.379,-0.3908),(1.392,-0.3912),(1.409,-0.3914),(1.421,-0.3919),(1.430,-0.3931),(1.438,-0.3946),(1.447,-0.3940),(1.455,-0.3929),(1.466,-0.3921),(1.481,-0.3920),
(1.494,-0.3923),(1.504,-0.3929),(1.515,-0.3927),(1.528,-0.3921),(1.540,-0.3916),(1.552,-0.3918),(1.560,-0.3929),(1.570,-0.3938),(1.580,-0.3938),(1.592,-0.3927),
(1.603,-0.3918),(1.617,-0.3908),(1.630,-0.3916),(1.638,-0.3923),(1.651,-0.3919),(1.660,-0.3916),(1.668,-0.3919),(1.681,-0.3908),(1.689,-0.3901),(1.702,-0.3912),
(1.711,-0.3921),(1.719,-0.3931),(1.732,-0.3923),(1.742,-0.3918),(1.753,-0.3929),(1.762,-0.3940),(1.770,-0.3944),(1.783,-0.3938),(1.796,-0.3931),(1.809,-0.3940),
(1.821,-0.3942),(1.830,-0.3931),(1.838,-0.3919),(1.847,-0.3921),(1.855,-0.3934),(1.866,-0.3944),(1.877,-0.3934),(1.889,-0.3919),(1.902,-0.3912),(1.915,-0.3908),
(1.926,-0.3916),(1.936,-0.3931),(1.945,-0.3942),(1.953,-0.3931),(1.963,-0.3916),(1.974,-0.3914),(1.986,-0.3919),(2.000,-0.3923)]

series_names = ["Original", "Optimal"]

# ---------------- layout helpers (pixel positions in the 1760x1098 canvas) ----------------
W, H = 1760, 1098
def px(x):
    return x / W
def py(y):
    return 1 - y / H

FONT = "Liberation Sans, Arial, Helvetica, sans-serif"
BLACK = "#000000"
RED = "#ff0000"

panels = [
    dict(label="(a)", data=(a_original, a_optimal), yr=(0.59, 0.65), yt=(a_ticks, a_tick_labels),
         xd=(171, 773.5), yd=(20, 472.3), ytitle="C<sub>d</sub>-total", ytp=(66, 251), xtp=(473, 534),
         lp=(38.5, 34), leg=(601, 662, 668, 36, 67)),
    dict(label="(b)", data=(b_original, b_optimal), yr=(0.30, 0.36), yt=(b_ticks, b_tick_labels),
         xd=(1124, 1725), yd=(22.7, 460), ytitle="C<sub>l</sub>-head", ytp=(1022, 252), xtp=(1428.5, 518),
         lp=(991.5, 34), leg=(1557, 1615, 1622, 42.3, 73.3)),
    dict(label="(c)", data=(c_original, c_optimal), yr=(0.62, 0.67), yt=(c_ticks, c_tick_labels),
         xd=(175.7, 774.3), yd=(583.3, 1020), ytitle="C<sub>s</sub>-head", ytp=(66, 806), xtp=(474, 1079),
         lp=(38.5, 591), leg=(637, 697, 703, 601.7, 632.7)),
    dict(label="(d)", data=(d_original, d_optimal), yr=(-0.400, -0.375), yt=(d_ticks, d_tick_labels),
         xd=(1136.7, 1723.3), yd=(575.7, 1022.3), ytitle="C<sub>Mx</sub>-head", ytp=(1019, 803), xtp=(1429.4, 1078),
         lp=(991.5, 591), leg=(1564, 1622, 1628, 589.3, 621.7)),
]

fig = go.Figure()
annotations = []
shapes = []
axis_common = dict(
    showline=True, linecolor=BLACK, linewidth=1.4, mirror=False,
    ticks="inside", ticklen=10, tickwidth=1.4, tickcolor=BLACK,
    showgrid=False, zeroline=False, automargin=False,
    tickfont=dict(family=FONT, size=25, color=BLACK),
)

for i, p in enumerate(panels, start=1):
    sx = "" if i == 1 else str(i)
    orig, opt = p["data"]
    t0, v0 = zip(*orig)
    t1, v1 = zip(*opt)
    fig.add_trace(go.Scatter(x=list(t0), y=list(v0), mode="lines", name=series_names[0],
                             line=dict(color=BLACK, width=2.2), showlegend=False,
                             xaxis="x" + sx, yaxis="y" + sx))
    fig.add_trace(go.Scatter(x=list(t1), y=list(v1), mode="lines", name=series_names[1],
                             line=dict(color=RED, width=2.3, dash="9px,6px"), showlegend=False,
                             xaxis="x" + sx, yaxis="y" + sx))
    fig.update_layout(**{
        "xaxis" + sx: dict(axis_common, domain=[px(p["xd"][0]), px(p["xd"][1])], range=[0.5, 2.0],
                           tickmode="array", tickvals=time_ticks, ticktext=time_tick_labels,
                           anchor="y" + sx, ticklabelstandoff=4),
        "yaxis" + sx: dict(axis_common, domain=[py(p["yd"][1]), py(p["yd"][0])], range=list(p["yr"]),
                           tickmode="array", tickvals=p["yt"][0], ticktext=p["yt"][1],
                           anchor="x" + sx, ticklabelstandoff=8),
    })
    annotations.append(dict(text=p["ytitle"], x=px(p["ytp"][0]), y=py(p["ytp"][1]), xref="paper", yref="paper",
                            textangle=-90, showarrow=False, xanchor="center", yanchor="middle",
                            font=dict(family=FONT, size=27, color=BLACK)))
    annotations.append(dict(text="Time (s)", x=px(p["xtp"][0]), y=py(p["xtp"][1]), xref="paper", yref="paper",
                            showarrow=False, xanchor="center", yanchor="middle",
                            font=dict(family=FONT, size=27, color=BLACK)))
    annotations.append(dict(text=p["label"], x=px(p["lp"][0]), y=py(p["lp"][1]), xref="paper", yref="paper",
                            showarrow=False, xanchor="center", yanchor="middle",
                            font=dict(family=FONT, size=44, color=BLACK)))
    x0, x1, xt, y0, y1 = p["leg"]
    shapes.append(dict(type="line", xref="paper", yref="paper", x0=px(x0), x1=px(x1), y0=py(y0), y1=py(y0),
                       line=dict(color=BLACK, width=2.2)))
    shapes.append(dict(type="line", xref="paper", yref="paper", x0=px(x0), x1=px(x1), y0=py(y1), y1=py(y1),
                       line=dict(color=RED, width=2.3, dash="12px,9px")))
    for name, yy in zip(series_names, (y0, y1)):
        annotations.append(dict(text=name, x=px(xt), y=py(yy), xref="paper", yref="paper",
                                showarrow=False, xanchor="left", yanchor="middle",
                                font=dict(family=FONT, size=25, color=BLACK)))

fig.update_layout(
    width=W, height=H, autosize=False,
    margin=dict(l=0, r=0, t=0, b=0, pad=0, autoexpand=False),
    paper_bgcolor="white", plot_bgcolor="white",
    font=dict(family=FONT, color=BLACK),
    annotations=annotations, shapes=shapes,
    showlegend=False,
)

fig.write_html("out.html", config={"displayModeBar": False},
               post_script="document.body.style.margin='0px';document.body.style.overflow='hidden';")
